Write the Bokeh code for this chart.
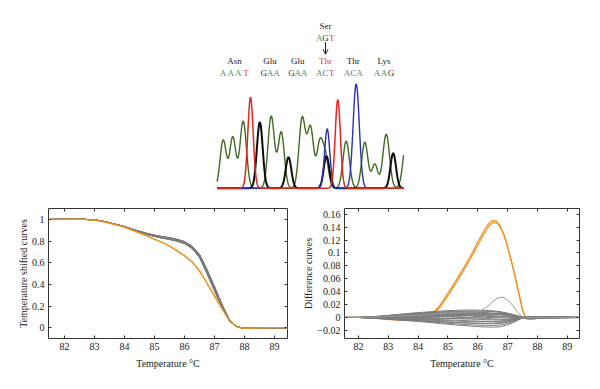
import numpy as np
from bokeh.plotting import figure
from bokeh.layouts import column, row
from bokeh.models import Range1d, FixedTicker, LinearAxis, Arrow, OpenHead, CustomLabelingPolicy
from bokeh.core.properties import value
from bokeh.embed import file_html
from bokeh.resources import INLINE

FONT = "Liberation Serif"

# ---------------- chromatogram data (scan positions, peak heights, widths) ----------------
GREEN_POS = [222.7, 232.3, 242.7, 270.7, 280.7, 301.7, 310.0, 319.3, 325.0, 345.7, 364.3, 374.3, 385.7, 406.0]
GREEN_HT = [48, 51, 67, 72, 56, 70, 60, 44, 30, 47, 46, 24, 54, 50]
GREEN_W = [3.1, 3.1, 3.2, 3.2, 3.1, 3.2, 3.1, 3.0, 3.0, 3.2, 3.1, 3.0, 3.3, 3.3]
BLACK_POS = [259.3, 288.0, 326.0, 392.7]
BLACK_HT = [66, 31, 32, 35]
BLACK_W = [2.9, 2.8, 2.8, 2.8]
RED_POS = [250.0, 337.3]
RED_HT = [91, 88.7]
RED_W = [2.7, 2.6]
BLUE_POS = [326.7, 355.7]
BLUE_HT = [59.4, 104.4]
BLUE_W = [2.6, 3.1]
SCAN_START, SCAN_END = 216.5, 403.0

CODONS = ["AAAT", "GAA", "GAA", "ACT", "ACA", "AAG"]
AMINO = ["Asn", "Glu", "Glu", "Thr", "Thr", "Lys"]
CODON_X = [234.0, 269.6, 297.3, 325.0, 352.7, 383.5]
CODON_STEP = [7.6, 6.4, 6.2, 6.2, 6.3, 7.0]
MUTATED_INDEX = 3
MUT_CODON = "AGT"
MUT_AMINO = "Ser"

# ---------------- melting data ----------------
T = [81.5, 82.0, 82.5, 83.0, 83.25, 83.5, 83.75, 84.0, 84.25, 84.5, 84.75, 85.0, 85.25, 85.5,
     85.75, 86.0, 86.25, 86.5, 86.75, 87.0, 87.25, 87.5, 87.75, 88.0, 88.25, 88.5, 89.0, 89.5]
GREY_MELT = [1.003, 1.005, 1.006, 1.0, 0.988, 0.973, 0.955, 0.936, 0.913, 0.89, 0.869, 0.852, 0.838, 0.826,
             0.811, 0.789, 0.745, 0.665, 0.52, 0.36, 0.2, 0.065, 0.008, -0.006, -0.004, -0.001, 0.0, 0.0]
GREY_SPREAD = [0, 0, 0, 0, 0, 0, 0, 0, 0.2, 0.35, 0.5, 0.6, 0.7, 0.8,
               0.85, 0.9, 1.1, 1.4, 1.8, 1.9, 1.3, 0.5, 0.1, 0, 0, 0, 0, 0]
GREY_OFFSETS = [0.011, 0.010, 0.009, 0.008, 0.007, 0.006, 0.005, 0.004, 0.003, 0.002, 0.001,
                0.0, -0.001, -0.002, -0.003, -0.004, -0.005, -0.006, -0.007, -0.008, -0.009, -0.011]
ORANGE_MELT_A = [1.003, 1.005, 1.006, 0.998, 0.985, 0.968, 0.95, 0.93, 0.904, 0.877, 0.848, 0.818, 0.79, 0.755,
                 0.712, 0.665, 0.61, 0.525, 0.41, 0.29, 0.175, 0.062, 0.006, -0.006, -0.004, -0.001, 0.0, 0.0]
ORANGE_MELT_B = [1.003, 1.005, 1.006, 0.998, 0.986, 0.97, 0.952, 0.932, 0.907, 0.881, 0.853, 0.824, 0.796, 0.762,
                 0.72, 0.673, 0.619, 0.535, 0.42, 0.298, 0.18, 0.064, 0.006, -0.006, -0.004, -0.001, 0.0, 0.0]

# difference-curve profiles for the grey (reference) bundle
DIFF_P1 = [0, 0, 0.12, 0.3, 0.4, 0.5, 0.6, 0.68, 0.76, 0.83, 0.89, 0.94, 0.97, 1.0,
           1.0, 0.97, 0.92, 0.84, 0.72, 0.52, 0.28, 0.03, 0.08, 0.1, 0.1, 0.08, 0.04, 0]
DIFF_P2 = [0, 0, 0, 0, 0, 0, 0, 0, 0.05, 0.1, 0.17, 0.25, 0.34, 0.44,
           0.55, 0.67, 0.8, 0.93, 1.0, 0.85, 0.5, 0.05, 0, 0, 0, 0, 0, 0]
GREY_A = [0.011, 0.010, 0.009, 0.008, 0.007, 0.006, 0.006, 0.005, 0.004, 0.003, 0.002,
          0.001, 0.000, -0.001, -0.002, -0.003, -0.004, -0.005, -0.006, -0.007, -0.008, -0.009]
GREY_B = [0.001, -0.002, 0.002, -0.001, 0.003, -0.003, 0.001, 0.002, -0.002, 0.004, -0.004,
          0.003, 0.006, -0.003, 0.002, -0.004, 0.008, -0.002, -0.005, -0.003, -0.006, -0.008]

TD = [81.5, 82.0, 82.5, 83.0, 83.5, 84.0, 84.25, 84.5, 84.75, 85.0, 85.25, 85.5, 85.75, 86.0,
      86.125, 86.25, 86.375, 86.5, 86.625, 86.75, 86.875, 87.0, 87.125, 87.25, 87.375, 87.5,
      87.625, 87.75, 88.0, 88.5, 89.0, 89.5]
ORANGE_DIFF_A = [0, 0, -0.001, -0.003, -0.004, -0.003, 0.0, 0.007, 0.02, 0.038, 0.056, 0.075, 0.095, 0.117,
                 0.128, 0.138, 0.146, 0.1505, 0.1495, 0.142, 0.129, 0.11, 0.088, 0.064, 0.038, 0.012,
                 -0.002, -0.003, -0.0015, 0, 0, 0]
ORANGE_DIFF_B = [0, 0, -0.001, -0.003, -0.0045, -0.0035, -0.001, 0.005, 0.017, 0.034, 0.052, 0.071, 0.091, 0.112,
                 0.123, 0.133, 0.142, 0.147, 0.147, 0.140, 0.128, 0.109, 0.087, 0.063, 0.037, 0.011,
                 -0.002, -0.003, -0.0015, 0, 0, 0]
GREY_DIFF_ODD = [0, 0, 0.0005, 0.0015, 0.0025, 0.0035, 0.004, 0.005, 0.006, 0.007, 0.0075, 0.008, 0.0085, 0.009,
                 0.011, 0.0145, 0.019, 0.024, 0.029, 0.0315, 0.031, 0.027, 0.021, 0.0135, 0.006, 0.001,
                 0, 0, 0, 0, 0, 0]

XTICKS = [82, 83, 84, 85, 86, 87, 88, 89]
Y1_TICKS = [0, 0.2, 0.4, 0.6, 0.8, 1.0]
Y1_LABELS = ["0", "0.2", "0.4", "0.6", "0.8", "1"]
Y2_TICKS = [-0.02, 0, 0.02, 0.04, 0.06, 0.08, 0.1, 0.12, 0.14, 0.16]
Y2_LABELS = ["\u22120.02", "0", "0.02", "0.04", "0.06", "0.08", "0.1", "0.12", "0.14", "0.16"]

GREEN_TRACE = "#3f6b22"
BLACK_TRACE = "#0d0d0d"
RED_TRACE = "#e3261e"
BLUE_TRACE = "#2b2fb0"
BASE_COLORS = {"A": "#3c9a48", "C": "#3d6fc6", "G": "#333333", "T": "#e5332c"}
ORANGE = "#f0921e"
GREY = "#7d7d7d"
TOP_FONT_SIZE = "9px"

# ---------------- top: chromatogram ----------------
top = figure(width=600, height=198, x_range=Range1d(0, 600), y_range=Range1d(-10.3, 187.7),
             output_backend="svg", toolbar_location=None, x_axis_location=None,
             y_axis_location=None, min_border=0)
top.grid.visible = False
top.outline_line_color = None

xs = np.arange(SCAN_START, SCAN_END + 0.25, 0.5)


def trace(pos, ht, w):
    sig = np.zeros_like(xs)
    for c, h, s in zip(pos, ht, w):
        sig += h * np.exp(-((xs - c) ** 2) / (2 * s * s))
    return sig


top.line(xs, trace(GREEN_POS, GREEN_HT, GREEN_W), line_color=GREEN_TRACE, line_width=1.4)
top.line(xs, trace(BLACK_POS, BLACK_HT, BLACK_W), line_color=BLACK_TRACE, line_width=2.0)
top.line(xs, trace(BLUE_POS, BLUE_HT, BLUE_W), line_color=BLUE_TRACE, line_width=1.4)
top.line(xs, trace(RED_POS, RED_HT, RED_W), line_color=RED_TRACE, line_width=1.5)

AMINO_Y, BASE_Y = 127.7, 115.4
bx, by, bt, bc = [], [], [], []
for codon, cx, step in zip(CODONS, CODON_X, CODON_STEP):
    n = len(codon)
    for i, ch in enumerate(codon):
        bx.append(cx + (i - (n - 1) / 2) * step)
        by.append(BASE_Y)
        bt.append(ch)
        bc.append(BASE_COLORS[ch])
mut_x = CODON_X[MUTATED_INDEX]
for i, ch in enumerate(MUT_CODON):
    bx.append(mut_x + (i - 1) * 6.2)
    by.append(150.4)
    bt.append(ch)
    bc.append(BASE_COLORS[ch])
top.text(x=bx, y=by, text=bt, text_color=bc, text_font=value(FONT), text_font_size=value(TOP_FONT_SIZE),
         text_align="center", text_baseline="middle")

acol = ["#e5332c" if i == MUTATED_INDEX else "#222222" for i in range(len(AMINO))]
top.text(x=CODON_X, y=[AMINO_Y] * len(AMINO), text=AMINO, text_color=acol, text_font=value(FONT),
         text_font_size=value(TOP_FONT_SIZE), text_align="center", text_baseline="middle")
top.text(x=[mut_x], y=[162.7], text=[MUT_AMINO], text_color="#222222", text_font=value(FONT),
         text_font_size=value(TOP_FONT_SIZE), text_align="center", text_baseline="middle")
top.add_layout(Arrow(end=OpenHead(size=5, line_width=1, line_color="#222222"),
                     x_start=mut_x, y_start=146.0, x_end=mut_x, y_end=134.0,
                     line_width=1, line_color="#222222"))


# ---------------- bottom plots ----------------
def make_panel(xr, yr, yticks, ylabels, ylabel, left_border, right_border):
    f = figure(width=300, height=191, x_range=Range1d(*xr), y_range=Range1d(*yr),
               output_backend="svg", toolbar_location=None,
               min_border_left=left_border, min_border_right=right_border,
               min_border_top=10, min_border_bottom=51)
    f.grid.visible = False
    f.outline_line_color = "#333333"
    f.outline_line_width = 1
    f.xaxis.ticker = FixedTicker(ticks=XTICKS)
    f.yaxis.ticker = FixedTicker(ticks=yticks)
    f.yaxis.major_label_overrides = {t: l for t, l in zip(yticks, ylabels)}
    f.xaxis.axis_label = "Temperature \u00b0C"
    f.yaxis.axis_label = ylabel
    for ax in (f.xaxis[0], f.yaxis[0]):
        ax.axis_line_color = None
        ax.major_tick_in = 3
        ax.major_tick_out = 0
        ax.major_tick_line_color = "#333333"
        ax.minor_tick_line_color = None
        ax.major_label_text_font = FONT
        ax.major_label_text_font_size = "10px"
        ax.major_label_text_color = "#222222"
        ax.axis_label_text_font = FONT
        ax.axis_label_text_font_size = "10px"
        ax.axis_label_text_font_style = "normal"
        ax.axis_label_text_color = "#222222"
    f.xaxis.major_label_standoff = 4
    f.xaxis.axis_label_standoff = 5
    f.yaxis.major_label_standoff = 4
    f.yaxis.axis_label_standoff = 0
    for ticks, side in ((XTICKS, "above"), (yticks, "right")):
        ax = LinearAxis(ticker=FixedTicker(ticks=ticks), major_label_text_font_size="1px",
                        major_label_policy=CustomLabelingPolicy(
                            code="for (const i of indices) { indices.unset(i) }\nreturn indices"),
                        major_label_standoff=0, major_tick_in=3, major_tick_out=0,
                        major_tick_line_color="#333333", minor_tick_line_color=None,
                        axis_line_color=None)
        f.add_layout(ax, side)
    return f


left = make_panel((81.47, 89.43), (-0.1, 1.105), Y1_TICKS, Y1_LABELS, "Temperature shifted curves", 48, 13)
gm = np.array(GREY_MELT)
gs = np.array(GREY_SPREAD)
for off in GREY_OFFSETS:
    left.line(T, gm + off * gs, line_color=GREY, line_width=1)
left.line(T, ORANGE_MELT_B, line_color=ORANGE, line_width=1, line_alpha=0.7)
left.line(T, ORANGE_MELT_A, line_color=ORANGE, line_width=1.3)

right = make_panel((81.53, 89.41), (-0.0326, 0.169), Y2_TICKS, Y2_LABELS, "Difference curves", 43, 21)
right.line(TD, ORANGE_DIFF_A, line_color=ORANGE, line_width=1.2)
right.line(TD, ORANGE_DIFF_B, line_color=ORANGE, line_width=1.2)
p1 = np.array(DIFF_P1)
p2 = np.array(DIFF_P2)
for a, b in zip(GREY_A, GREY_B):
    right.line(T, a * p1 + b * p2, line_color=GREY, line_width=1)
right.line(TD, GREY_DIFF_ODD, line_color="#9a9a9a", line_width=1)

layout = column(top, row(left, right))
open("out.html", "w").write(file_html(layout, INLINE))
